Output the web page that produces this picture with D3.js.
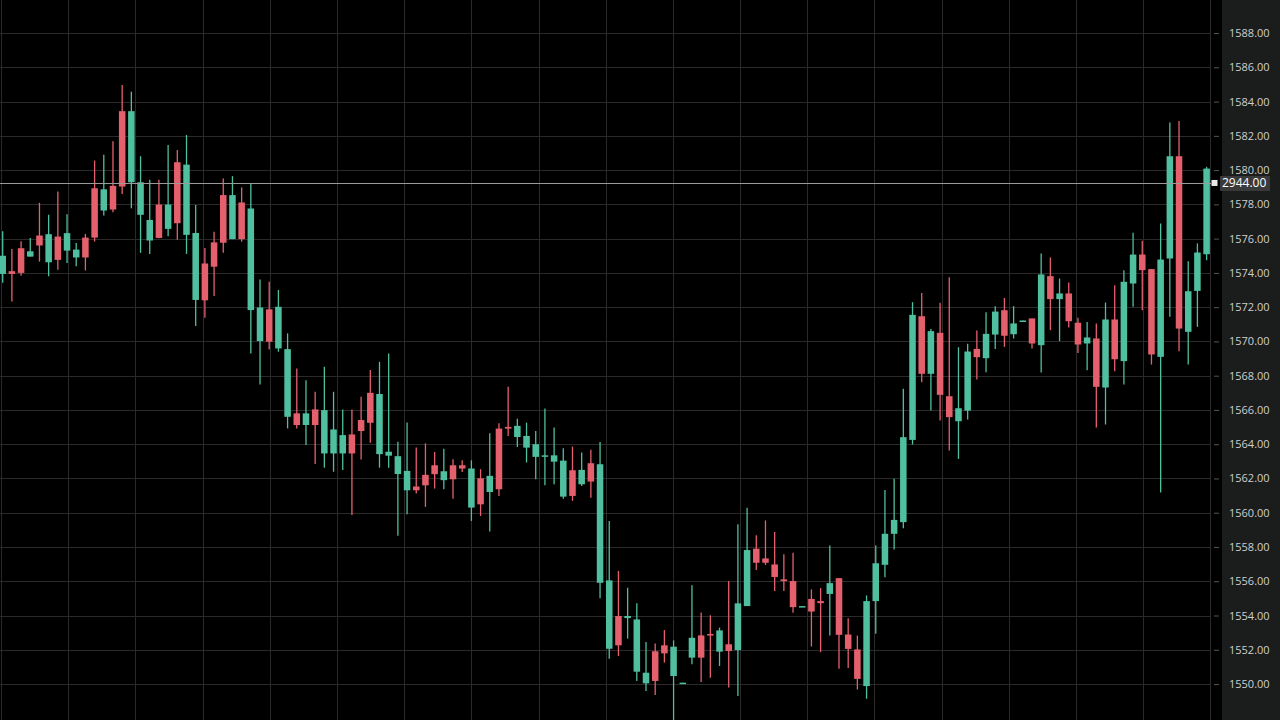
<!DOCTYPE html>
<html>
<head>
<meta charset="utf-8">
<script src="https://cdn.jsdelivr.net/npm/d3@7"></script>
<style>
  html, body { margin: 0; padding: 0; background: #000; }
  svg { display: block; }
</style>
</head>
<body>
<svg id="chart" width="1280" height="720"></svg>
<script>
// ---- data ----
const openPrices = [
  1573.94,1574.10,1575.44,1574.95,1576.18,1574.62,1576.12,1575.30,1574.90,1576.06,
  1578.94,1577.64,1579.08,1583.44,1579.29,1577.39,1575.89,1577.99,1576.57,1580.46,
  1576.22,1572.42,1574.55,1575.78,1578.54,1575.97,1578.11,1571.83,1570.02,1571.87,
  1569.59,1565.60,1565.80,1565.12,1566.03,1563.46,1563.46,1563.46,1564.57,1565.41,
  1567.00,1563.42,1563.33,1562.26,1561.31,1561.53,1562.21,1562.77,1561.90,1562.77,
  1562.77,1560.30,1562.01,1561.21,1564.91,1565.01,1564.42,1563.80,1563.26,1563.28,
  1562.98,1560.94,1562.48,1561.66,1562.89,1555.91,1552.06,1553.97,1553.85,1550.72,
  1550.04,1551.91,1552.26,1550.47,1550.04,1551.54,1552.84,1552.92,1551.89,1552.32,
  1551.98,1554.55,1557.90,1557.33,1556.98,1556.11,1556.01,1554.49,1554.97,1554.84,
  1555.26,1556.18,1552.89,1552.02,1549.88,1554.84,1556.96,1558.77,1559.45,1564.25,
  1571.47,1568.11,1570.50,1566.80,1565.34,1565.96,1569.56,1569.02,1570.40,1571.82,
  1570.42,1571.17,1571.34,1569.78,1573.81,1572.47,1572.80,1571.09,1569.88,1570.17,
  1567.31,1571.28,1568.85,1573.38,1575.07,1574.22,1569.10,1574.84,1580.81,1570.56,
  1572.95,1575.09
];
const highPrices = [
  1576.43,1575.40,1575.85,1576.04,1578.09,1577.39,1578.75,1577.42,1575.75,1576.28,
  1580.56,1580.89,1581.68,1584.97,1584.58,1580.81,1579.43,1579.43,1581.47,1581.18,
  1582.05,1577.97,1575.45,1576.40,1579.51,1579.65,1578.99,1579.22,1573.62,1573.48,
  1573.00,1570.47,1568.42,1567.74,1567.06,1568.52,1567.06,1566.03,1566.03,1566.77,
  1568.33,1568.81,1569.30,1564.14,1565.26,1563.80,1564.05,1563.55,1563.74,1563.12,
  1563.06,1563.06,1562.54,1564.64,1565.22,1567.36,1565.49,1565.26,1564.77,1566.08,
  1564.97,1563.76,1563.86,1563.51,1563.67,1564.13,1559.51,1556.60,1555.62,1554.71,
  1552.45,1552.37,1553.15,1552.55,1550.08,1555.76,1554.17,1554.01,1553.29,1556.01,
  1559.32,1560.29,1558.68,1559.55,1558.87,1557.57,1557.67,1554.55,1555.52,1555.60,
  1558.09,1556.18,1553.84,1552.83,1555.17,1558.09,1561.33,1561.98,1567.23,1572.29,
  1572.83,1570.73,1572.25,1573.75,1569.66,1569.86,1570.63,1571.70,1572.05,1572.54,
  1572.06,1571.22,1571.34,1575.13,1574.90,1573.67,1573.44,1571.38,1571.14,1571.05,
  1572.27,1573.28,1574.16,1576.34,1575.87,1574.22,1576.88,1582.78,1582.86,1574.68,
  1575.72,1580.19
];
const lowPrices = [
  1573.42,1572.33,1573.84,1574.95,1574.66,1573.81,1574.19,1574.58,1574.39,1574.14,
  1575.83,1577.35,1577.54,1578.61,1577.77,1575.17,1575.11,1576.02,1576.14,1575.93,
  1575.11,1570.90,1571.38,1572.65,1575.18,1575.97,1575.82,1569.30,1567.49,1569.53,
  1569.40,1564.92,1564.92,1563.95,1562.84,1562.63,1562.39,1562.49,1559.86,1563.11,
  1564.09,1562.63,1562.63,1558.65,1559.91,1561.12,1560.34,1561.41,1561.37,1560.82,
  1562.38,1559.52,1559.81,1558.90,1560.98,1564.48,1563.84,1562.93,1561.95,1561.60,
  1561.66,1560.82,1560.69,1561.56,1560.88,1555.00,1551.48,1551.63,1552.65,1550.18,
  1549.59,1549.36,1551.25,1547.90,1550.04,1551.15,1550.12,1550.37,1551.05,1549.79,
  1549.30,1554.55,1556.65,1556.95,1555.43,1555.43,1554.16,1554.49,1552.19,1551.86,
  1552.83,1550.89,1550.93,1549.68,1549.14,1552.93,1556.24,1557.85,1559.10,1563.98,
  1567.62,1565.96,1565.38,1563.63,1563.14,1565.44,1567.77,1568.20,1569.56,1569.68,
  1570.17,1571.17,1569.59,1568.19,1570.66,1570.02,1570.81,1569.33,1568.32,1564.98,
  1565.15,1568.26,1567.49,1572.02,1571.82,1568.65,1561.18,1571.44,1569.43,1568.65,
  1570.85,1574.74
];
const closePrices = [
  1575.00,1573.94,1574.00,1575.26,1575.60,1576.26,1574.76,1576.32,1575.36,1574.90,
  1576.06,1578.88,1577.70,1579.04,1583.44,1579.29,1577.09,1576.04,1577.99,1576.90,
  1580.32,1576.33,1572.40,1574.36,1575.76,1578.54,1575.97,1577.76,1571.98,1569.98,
  1572.02,1569.55,1565.12,1565.80,1565.12,1565.99,1564.86,1564.53,1563.46,1564.77,
  1565.25,1566.93,1563.56,1563.30,1562.44,1561.31,1561.60,1562.25,1562.42,1561.95,
  1562.58,1562.58,1560.49,1562.15,1561.37,1564.91,1565.07,1564.48,1564.00,1563.35,
  1563.35,1563.04,1560.98,1562.50,1561.82,1562.83,1556.05,1552.26,1553.97,1553.77,
  1550.66,1550.18,1551.79,1552.18,1550.08,1552.70,1551.54,1552.84,1553.13,1551.93,
  1554.71,1557.82,1557.08,1557.08,1556.25,1556.01,1554.49,1554.55,1554.23,1554.72,
  1555.89,1552.87,1552.05,1550.30,1554.84,1557.05,1558.77,1559.58,1564.41,1571.55,
  1568.11,1570.60,1566.88,1565.58,1566.10,1569.41,1569.08,1570.44,1571.74,1570.33,
  1571.05,1571.22,1569.88,1573.91,1572.47,1572.80,1571.18,1569.82,1570.23,1567.35,
  1571.28,1568.96,1573.48,1575.07,1574.16,1569.24,1574.78,1580.81,1570.75,1572.93,
  1575.19,1580.09
];
const priceTicks = d3.range(1550, 1588.01, 2);
const currentPrice = 1579.25;
const currentLabel = "2944.00";

// ---- chart ----
const W = 1280, H = 720;
const svg = d3.select("#chart");
const plotRight = 1211;
const panelLeft = 1222;

const n = openPrices.length;
const x = d3.scaleLinear().domain([0, n - 1]).range([2.7, 1206.6]);
const y = d3.scaleLinear().domain([1547.9, 1589.93]).range([H, 0]);
const step = x(1) - x(0);
const bodyW = step * 0.71;

const up = "#4fbf9f", down = "#e5606d";
const gridColor = "#2a2a2a";

svg.append("rect").attr("width", W).attr("height", H).attr("fill", "#000");

// vertical gridlines (time grid, in candle-index units)
const gridIdx = d3.range(19).map(k => -0.185 + k * 7.311);
svg.append("g").selectAll("line").data(gridIdx).join("line")
  .attr("x1", d => Math.round(x(d)) + 0.5).attr("x2", d => Math.round(x(d)) + 0.5)
  .attr("y1", 0).attr("y2", H)
  .attr("stroke", gridColor).attr("stroke-width", 1);

// horizontal gridlines
svg.append("g").selectAll("line").data(priceTicks).join("line")
  .attr("x1", 0).attr("x2", plotRight)
  .attr("y1", d => Math.round(y(d)) + 0.5).attr("y2", d => Math.round(y(d)) + 0.5)
  .attr("stroke", gridColor).attr("stroke-width", 1);

// candles
const candles = d3.range(n).map(i => ({
  i, o: openPrices[i], h: highPrices[i], l: lowPrices[i], c: closePrices[i]
}));
const g = svg.append("g");
g.selectAll("line.wick").data(candles).join("line")
  .attr("class", "wick")
  .attr("x1", d => x(d.i)).attr("x2", d => x(d.i))
  .attr("y1", d => y(d.h)).attr("y2", d => y(d.l))
  .attr("stroke", d => d.c >= d.o ? up : down)
  .attr("stroke-width", 1.3);
g.selectAll("rect.body").data(candles).join("rect")
  .attr("class", "body")
  .attr("x", d => x(d.i) - bodyW / 2)
  .attr("width", bodyW)
  .attr("y", d => y(Math.max(d.o, d.c)))
  .attr("height", d => Math.max(1.5, Math.abs(y(d.o) - y(d.c))))
  .attr("fill", d => d.c >= d.o ? up : down);

// current price line
svg.append("line")
  .attr("x1", 0).attr("x2", plotRight)
  .attr("y1", Math.round(y(currentPrice)) + 0.5).attr("y2", Math.round(y(currentPrice)) + 0.5)
  .attr("stroke", "#9a9a9a").attr("stroke-width", 1);

// right axis panel
svg.append("rect").attr("x", panelLeft).attr("y", 0)
  .attr("width", W - panelLeft).attr("height", H).attr("fill", "#1a1d1c");

const axis = d3.axisRight(y).tickValues(priceTicks)
  .tickFormat(d3.format(".2f")).tickSize(5).tickPadding(10);
const ax = svg.append("g").attr("transform", `translate(${1214},0)`).call(axis);
ax.select(".domain").remove();
ax.selectAll(".tick line").attr("stroke", "#555");
ax.selectAll(".tick text")
  .attr("fill", "#cfcfcf")
  .style("font-family", "'Open Sans', 'DejaVu Sans', sans-serif")
  .style("font-size", "11px");

// current price marker + label
const cy = y(currentPrice);
svg.append("rect").attr("x", 1211.5).attr("y", cy - 3).attr("width", 6).attr("height", 6)
  .attr("fill", "#e8e8e8");
svg.append("rect").attr("x", 1220).attr("y", cy - 7).attr("width", 50).attr("height", 15)
  .attr("fill", "#3a3a3a");
svg.append("text").attr("x", 1222).attr("y", cy + 4.5)
  .attr("fill", "#ffffff")
  .style("font-family", "'Open Sans', 'DejaVu Sans', sans-serif")
  .style("font-size", "12px")
  .text(currentLabel);
</script>
</body>
</html>
